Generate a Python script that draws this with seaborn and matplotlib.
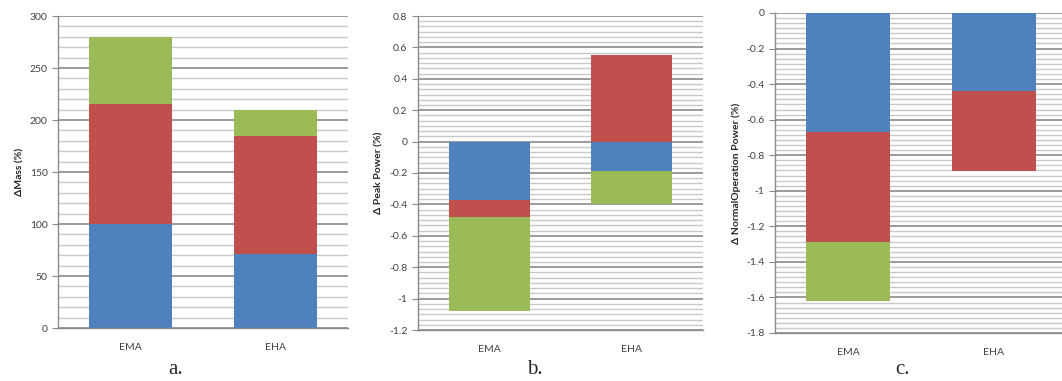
import numpy as np
import matplotlib
matplotlib.use("Agg")
import matplotlib.pyplot as plt
import seaborn as sns
from matplotlib.ticker import MultipleLocator, FuncFormatter

# Data
categories = ["EMA", "EHA"]

mass_blue = [100, 71]
mass_red = [115, 114]
mass_green = [65, 25]

peak_blue = [-0.37, -0.19]
peak_red = [-0.11, 0.55]
peak_green = [-0.60, -0.21]

norm_blue = [-0.67, -0.44]
norm_red = [-0.62, -0.45]
norm_green = [-0.33, 0.0]

colors = ["#4F81BD", "#C0504D", "#9BBB59"]

sns.set_style("white")
plt.rcParams["font.family"] = ["Lato", "DejaVu Sans"]

fig = plt.figure(figsize=(10.62, 3.81), dpi=100)
W, H = 1062, 381


def box(left, top, right, bottom):
    return [left / W, (H - bottom) / H, (right - left) / W, (bottom - top) / H]


def stacked(ax, parts):
    # Excel-style stacking: positive and negative parts stack separately
    pos = np.zeros(len(categories))
    neg = np.zeros(len(categories))
    ends = []
    for p in parts:
        p = np.asarray(p, dtype=float)
        end = np.where(p >= 0, pos + p, neg + p)
        pos = np.where(p >= 0, pos + p, pos)
        neg = np.where(p < 0, neg + p, neg)
        ends.append(end)
    # draw last series first, earlier ones overlay it
    for end, col in reversed(list(zip(ends, colors))):
        sns.barplot(x=categories, y=end, color=col, width=0.57,
                    saturation=1, linewidth=0, ax=ax, zorder=2)


def style(ax, lo, hi, major, n_minor, ylabel):
    ax.set_ylim(lo, hi)
    ax.set_xlim(-0.5, 1.5)
    ax.yaxis.set_major_locator(MultipleLocator(major))
    ax.yaxis.set_minor_locator(MultipleLocator(major / n_minor))
    ax.yaxis.set_major_formatter(FuncFormatter(lambda v, p: f"{round(v, 6):g}"))
    ax.grid(True, which="major", axis="y", color="#808080", lw=1.1, zorder=0)
    ax.grid(True, which="minor", axis="y", color="#C8C8C8", lw=1.0, zorder=0)
    ax.set_axisbelow(True)
    for s in ["top", "right"]:
        ax.spines[s].set_visible(False)
    for s in ["left", "bottom"]:
        ax.spines[s].set_color("#8A8A8A")
        ax.spines[s].set_linewidth(1.0)
    ax.tick_params(axis="y", which="major", length=4, color="#8A8A8A",
                   labelsize=7.5, labelcolor="#404040", direction="out", left=True)
    ax.tick_params(axis="y", which="minor", length=0)
    ax.tick_params(axis="x", length=0, labelsize=7.5, labelcolor="#404040", pad=11)
    ax.set_ylabel(ylabel, fontsize=7.5, fontweight="bold", labelpad=4)
    ax.set_xlabel("")


ax1 = fig.add_axes(box(58, 16, 348, 328))
stacked(ax1, [mass_blue, mass_red, mass_green])
style(ax1, 0, 300, 50, 5, "ΔMass (%)")

ax2 = fig.add_axes(box(418, 16, 703, 330))
stacked(ax2, [peak_blue, peak_red, peak_green])
style(ax2, -1.2, 0.8, 0.2, 6, "Δ Peak Power (%)")

ax3 = fig.add_axes(box(775, 13, 1067, 333))
stacked(ax3, [norm_blue, norm_red, norm_green])
style(ax3, -1.8, 0, 0.2, 7, "Δ NormalOperation Power (%)")

for x, lab in [(176, "a."), (535, "b."), (903, "c.")]:
    fig.text(x / W, 1 - 369 / H, lab, ha="center", va="center",
             fontsize=15, family="Liberation Serif")

fig.savefig("out.png", dpi=100)
